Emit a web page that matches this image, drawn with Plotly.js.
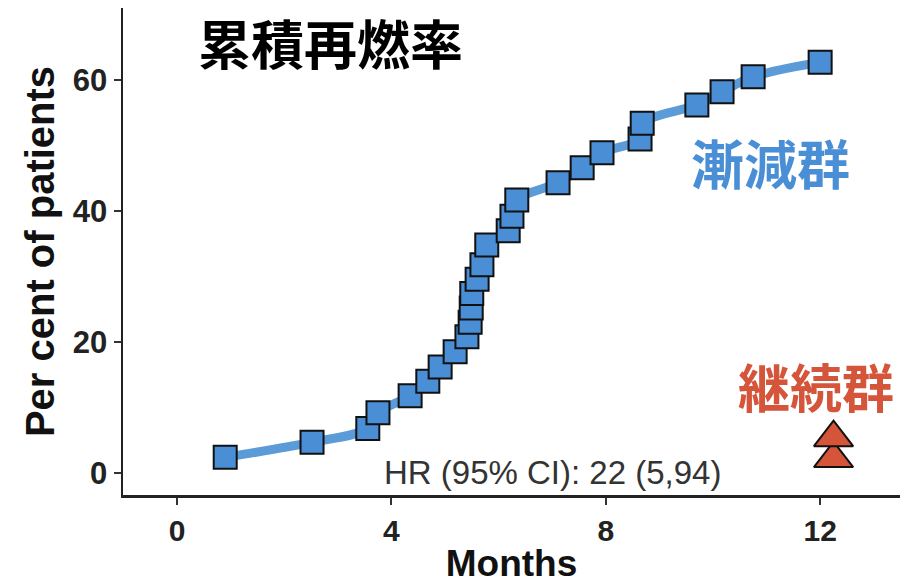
<!DOCTYPE html>
<html>
<head>
<meta charset="utf-8">
<script src="https://cdn.plot.ly/plotly-3.0.1.min.js"></script>
<style>html,body{margin:0;padding:0;background:#fff;}#chart{width:900px;height:584px;}</style>
</head>
<body>
<div id="chart"></div>
<script>
// Tapering group (漸減群): cumulative relapse
const taperMonths = [0.9, 2.52, 3.56, 3.75, 4.35, 4.68, 4.91, 5.19, 5.41, 5.47, 5.49, 5.5, 5.6, 5.69, 5.78, 6.18, 6.25, 6.34, 7.11, 7.56, 7.93, 8.64, 8.68, 9.7, 10.17, 10.75, 12.0];
const taperPct    = [2.4, 4.7, 6.8, 9.2, 11.8, 14.0, 16.2, 18.5, 20.8, 23.0, 25.2, 27.4, 29.6, 31.8, 34.8, 37.0, 39.2, 41.7, 44.3, 46.6, 48.9, 51.0, 53.4, 56.2, 58.2, 60.5, 62.7];
// Continuation group (継続群)
const contMonths = [12.25, 12.25];
const contPct    = [2.2, 5.4];

const xTicks = [0, 4, 8, 12];
const yTicks = [0, 20, 40, 60];

const titleText = "累積再燃率";
const taperLabel = "漸減群";
const contLabel = "継続群";
const hrText = "HR (95% CI): 22 (5,94)";
const xTitle = "Months";
const yTitle = "Per cent of patients";

const blue = "#4a8fd6";
const red = "#d5553b";
const sans = "Liberation Sans, Arial, sans-serif";
const cjk = "Noto Sans CJK JP, sans-serif";

const traces = [
  {
    x: taperMonths, y: taperPct, type: "scatter", mode: "lines+markers",
    line: {color: "#5b9bd8", width: 9, shape: "spline", smoothing: 1},
    marker: {symbol: "square", size: 23, color: blue, line: {color: "#111", width: 2}},
    hoverinfo: "x+y", showlegend: false
  },
  {
    x: contMonths, y: contPct, type: "scatter", mode: "markers",
    marker: {symbol: "triangle-up", size: 34, color: red, line: {color: "#111", width: 2}},
    hoverinfo: "x+y", showlegend: false
  }
];

const layout = {
  width: 900, height: 584,
  margin: {l: 123, r: 0, t: 8, b: 89},
  paper_bgcolor: "#fff", plot_bgcolor: "#fff",
  xaxis: {
    range: [-1.007, 13.49], tickvals: xTicks, ticktext: xTicks.map(String),
    showgrid: false, zeroline: false, showline: true, linecolor: "#222", linewidth: 2.5,
    ticks: "outside", ticklen: 7, tickwidth: 2, tickcolor: "#333",
    tickfont: {family: sans, size: 30, color: "#222", weight: "bold"},
    title: {text: xTitle, font: {family: sans, size: 37, color: "#111", weight: "bold"}, standoff: 6}
  },
  yaxis: {
    range: [-3.36, 71.0], tickvals: yTicks, ticktext: yTicks.map(String),
    showgrid: false, zeroline: false, showline: true, linecolor: "#222", linewidth: 2.5,
    ticks: "outside", ticklen: 7, tickwidth: 2, tickcolor: "#333",
    tickfont: {family: sans, size: 31, color: "#222", weight: "bold"},
    title: {text: yTitle, font: {family: sans, size: 40, color: "#111", weight: "bold"}, standoff: 6}
  },
  annotations: [
    {x: 2.87, y: 65.8, xref: "x", yref: "y", text: titleText, showarrow: false,
     xanchor: "center", yanchor: "middle", font: {family: cjk, size: 53, color: "#000", weight: "bold"}},
    {x: 11.08, y: 47.5, xref: "x", yref: "y", text: taperLabel, showarrow: false,
     xanchor: "center", yanchor: "middle", font: {family: cjk, size: 53, color: blue, weight: "bold"}},
    {x: 11.92, y: 13.3, xref: "x", yref: "y", text: contLabel, showarrow: false,
     xanchor: "center", yanchor: "middle", font: {family: cjk, size: 52, color: red, weight: "bold"}},
    {x: 7.0, y: 0.0, xref: "x", yref: "y", text: hrText, showarrow: false,
     xanchor: "center", yanchor: "middle", font: {family: sans, size: 33, color: "#333"}}
  ]
};

Plotly.newPlot("chart", traces, layout, {displayModeBar: false, staticPlot: true});
</script>
</body>
</html>
